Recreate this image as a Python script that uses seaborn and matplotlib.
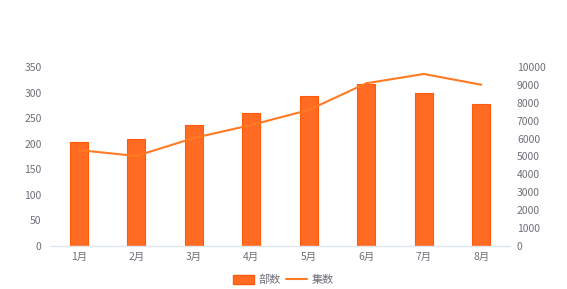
import numpy as np
import pandas as pd
import matplotlib
matplotlib.use("Agg")
import matplotlib.pyplot as plt
import seaborn as sns
from matplotlib.patches import Patch
from matplotlib.lines import Line2D

months = ["1月", "2月", "3月", "4月", "5月", "6月", "7月", "8月"]
volumes = [203, 209, 236, 260, 293, 316, 299, 278]          # 部数 (left axis)
episodes = [5360, 5030, 6030, 6760, 7600, 9090, 9610, 9010]  # 集数 (right axis)
left_ticks = [0, 50, 100, 150, 200, 250, 300, 350]
right_ticks = [0, 1000, 2000, 3000, 4000, 5000, 6000, 7000, 8000, 9000, 10000]

sns.set_theme(style="white")
plt.rcParams['font.family'] = ['Noto Sans CJK SC', 'DejaVu Sans']

txt = "#6E7079"
bar_col = "#FF6B22"
line_col = "#FF7A22"

fig = plt.figure(figsize=(5.67, 2.89), dpi=100)
ax = fig.add_axes([50/567, 43/289, 460/567, 179/289])

df = pd.DataFrame({"month": months, "vol": volumes})
sns.barplot(data=df, x="month", y="vol", ax=ax, color=bar_col, width=0.31,
            edgecolor="#FF5A0A", linewidth=0.8, saturation=1)
ax.set_xlim(-0.5, len(months) - 0.5)
ax.set_ylim(0, 350)
ax.set_yticks(left_ticks)
ax.set_xlabel("")
ax.set_ylabel("")
for s in ["top", "right", "left"]:
    ax.spines[s].set_visible(False)
ax.spines["bottom"].set_color("#E0E6F1")
ax.spines["bottom"].set_linewidth(1)
ax.tick_params(axis="both", length=0, colors=txt, labelsize=7.5)
ax.tick_params(axis="y", pad=6)
ax.tick_params(axis="x", pad=4)

ax2 = ax.twinx()
sns.lineplot(x=np.arange(len(months)), y=episodes, ax=ax2, color=line_col,
             linewidth=1.5, sort=False)
ax2.set_ylim(0, 10000)
ax2.set_yticks(right_ticks)
ax2.set_ylabel("")
for s in ["top", "right", "left", "bottom"]:
    ax2.spines[s].set_visible(False)
ax2.tick_params(axis="y", length=0, colors=txt, labelsize=7.5, pad=5)

handles = [Patch(facecolor=bar_col, edgecolor="#FF5A0A", label="部数"),
           Line2D([0], [0], color=line_col, lw=1.5, label="集数")]
fig.legend(handles=handles, loc="center", bbox_to_anchor=(0.5, 1 - 280/289),
           ncol=2, frameon=False, fontsize=8, labelcolor=txt,
           handlelength=1.9, handleheight=0.8, columnspacing=0.5, handletextpad=0.4)

fig.savefig("out.png", dpi=100)
